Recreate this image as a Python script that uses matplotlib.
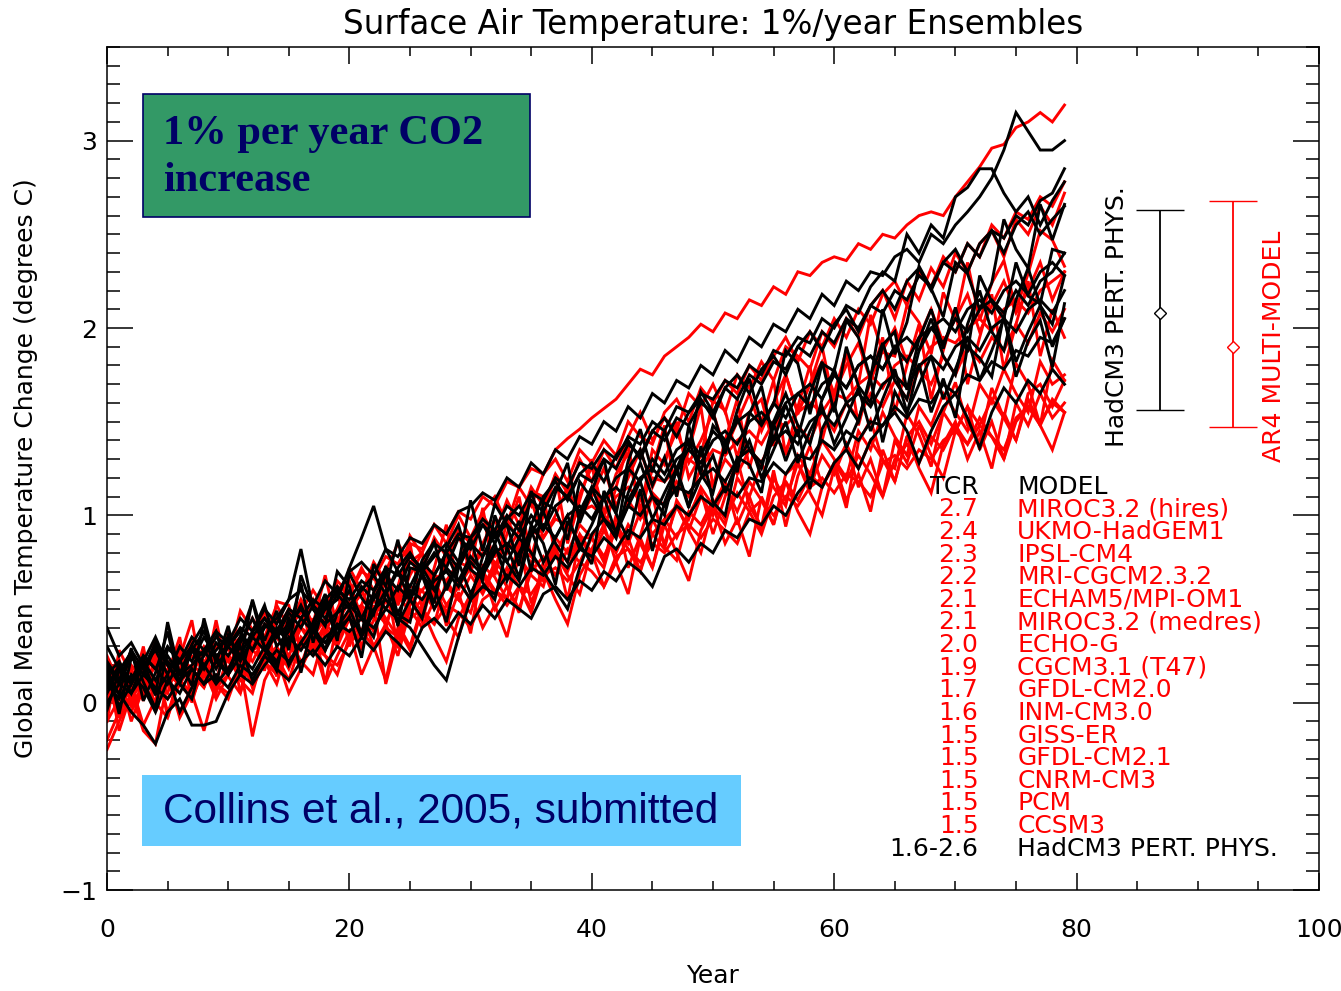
import numpy as np
import matplotlib
matplotlib.use("Agg")
import matplotlib.pyplot as plt
from matplotlib.patches import Rectangle
from matplotlib.ticker import MultipleLocator

# ---- data (years since start of 1%/yr CO2 increase) ----
years = list(range(80))

# AR4 multi-model runs (red)
miroc_hires = [0.05, 0.12, 0.02, 0.15, 0.10, 0.22, 0.18, 0.25, 0.20, 0.30,
               0.28, 0.35, 0.30, 0.42, 0.38, 0.50, 0.45, 0.55, 0.52, 0.62,
               0.58, 0.70, 0.66, 0.78, 0.74, 0.85, 0.82, 0.95, 0.90, 1.02,
               0.98, 1.10, 1.05, 1.18, 1.15, 1.25, 1.22, 1.35, 1.41, 1.46,
               1.52, 1.57, 1.62, 1.70, 1.78, 1.75, 1.85, 1.90, 1.95, 2.02,
               1.98, 2.08, 2.05, 2.15, 2.12, 2.22, 2.18, 2.30, 2.28, 2.35,
               2.38, 2.36, 2.45, 2.42, 2.50, 2.48, 2.55, 2.60, 2.62, 2.60,
               2.70, 2.78, 2.86, 2.96, 2.98, 3.07, 3.10, 3.15, 3.10, 3.19]
ukmo_hadgem1 = [0.02, 0.15, 0.08, 0.22, 0.10, 0.05, 0.25, 0.18, 0.30, 0.22,
                0.38, 0.30, 0.45, 0.35, 0.52, 0.40, 0.48, 0.60, 0.50, 0.65,
                0.58, 0.72, 0.60, 0.70, 0.85, 0.75, 0.80, 0.95, 0.85, 1.00,
                0.88, 1.02, 1.10, 0.95, 1.15, 1.05, 1.22, 1.30, 1.18, 1.35,
                1.28, 1.40, 1.32, 1.50, 1.42, 1.38, 1.55, 1.62, 1.50, 1.68,
                1.60, 1.72, 1.65, 1.80, 1.72, 1.85, 1.95, 1.82, 1.98, 1.90,
                2.05, 1.95, 2.10, 2.02, 2.18, 2.25, 2.12, 2.30, 2.22, 2.38,
                2.30, 2.45, 2.38, 2.55, 2.48, 2.62, 2.58, 2.70, 2.65, 2.78]
ipsl_cm4 = [0.18, 0.05, 0.20, 0.12, 0.28, 0.15, 0.10, 0.32, 0.20, 0.25,
            0.15, 0.35, 0.28, 0.22, 0.45, 0.38, 0.55, 0.42, 0.48, 0.62,
            0.50, 0.58, 0.75, 0.65, 0.55, 0.80, 0.70, 0.88, 0.78, 0.92,
            0.85, 1.00, 0.90, 1.08, 0.95, 1.15, 1.05, 1.22, 1.12, 1.30,
            1.18, 1.35, 1.25, 1.42, 1.55, 1.40, 1.52, 1.45, 1.65, 1.58,
            1.70, 1.55, 1.75, 1.68, 1.82, 1.72, 1.90, 1.85, 1.78, 1.98,
            1.90, 2.05, 1.95, 2.12, 2.20, 2.05, 2.25, 2.15, 2.32, 2.22,
            2.40, 2.30, 2.45, 2.52, 2.38, 2.58, 2.50, 2.65, 2.55, 2.72]
mri_cgcm232 = [0.15, 0.23, -0.01, 0.09, 0.34, 0.10, 0.24, 0.44, 0.08, 0.39,
               0.23, 0.49, 0.39, 0.17, 0.54, 0.52, 0.28, 0.42, 0.68, 0.40,
               0.72, 0.60, 0.45, 0.68, 0.54, 0.89, 0.79, 0.55, 0.77, 0.92,
               0.72, 1.04, 0.70, 0.97, 0.87, 1.13, 1.10, 0.79, 0.93, 1.11,
               1.26, 1.01, 1.22, 1.33, 1.02, 1.35, 1.27, 1.50, 1.20, 1.32,
               1.61, 1.56, 1.31, 1.55, 1.62, 1.37, 1.75, 1.54, 1.70, 1.90,
               1.59, 1.86, 1.70, 2.07, 1.87, 1.85, 2.12, 2.03, 1.86, 2.19,
               2.04, 2.35, 2.04, 2.24, 2.36, 2.10, 2.29, 2.52, 2.47, 2.33]
echam5 = [0.10, -0.08, 0.12, 0.25, 0.05, 0.18, 0.30, 0.12, 0.20, 0.38,
          0.22, 0.15, 0.35, 0.28, 0.48, 0.30, 0.42, 0.55, 0.38, 0.50,
          0.65, 0.45, 0.58, 0.72, 0.52, 0.68, 0.80, 0.62, 0.75, 0.90,
          0.70, 0.85, 0.98, 0.80, 0.92, 1.08, 0.88, 1.00, 1.15, 0.98,
          1.10, 1.25, 1.05, 1.20, 1.35, 1.15, 1.30, 1.45, 1.28, 1.40,
          1.55, 1.35, 1.50, 1.65, 1.45, 1.60, 1.75, 1.55, 1.70, 1.82,
          1.65, 1.80, 1.92, 1.72, 1.88, 2.00, 1.82, 1.95, 2.10, 1.92,
          2.05, 2.18, 1.98, 2.12, 2.25, 2.08, 2.20, 2.35, 2.15, 2.30]
miroc_medres = [0.05, 0.10, 0.02, 0.12, 0.08, 0.15, 0.10, 0.20, 0.15, 0.22,
                0.25, 0.20, 0.28, 0.32, 0.25, 0.35, 0.40, 0.35, 0.45, 0.42,
                0.48, 0.52, 0.45, 0.58, 0.55, 0.62, 0.60, 0.68, 0.65, 0.75,
                0.72, 0.80, 0.78, 0.85, 0.82, 0.92, 0.88, 0.98, 0.95, 1.02,
                1.05, 1.00, 1.10, 1.15, 1.08, 1.20, 1.18, 1.25, 1.30, 1.25,
                1.35, 1.32, 1.40, 1.45, 1.38, 1.50, 1.48, 1.55, 1.60, 1.55,
                1.65, 1.62, 1.70, 1.75, 1.68, 1.80, 1.85, 1.78, 1.90, 1.95,
                1.92, 2.00, 2.05, 1.98, 2.10, 2.15, 2.08, 2.20, 2.25, 2.30]
echo_g = [0.20, -0.15, 0.05, 0.30, -0.05, 0.15, 0.35, 0.00, 0.22, 0.10,
          0.40, 0.05, 0.28, 0.50, 0.15, 0.35, 0.55, 0.25, 0.42, 0.60,
          0.30, 0.52, 0.70, 0.40, 0.62, 0.85, 0.50, 0.72, 0.95, 0.60,
          0.82, 1.02, 0.68, 0.90, 1.10, 0.78, 1.00, 1.22, 0.85, 1.08,
          1.30, 0.92, 1.15, 1.38, 1.00, 1.25, 1.48, 1.10, 1.35, 1.58,
          1.15, 1.40, 1.62, 1.25, 1.50, 1.72, 1.32, 1.58, 1.80, 1.40,
          1.65, 1.88, 1.48, 1.72, 1.95, 1.55, 1.80, 2.02, 1.62, 1.88,
          2.10, 1.70, 1.95, 2.18, 1.78, 2.02, 2.25, 1.85, 2.10, 1.95]
cgcm31_t47 = [-0.10, 0.02, -0.05, 0.10, 0.00, -0.08, 0.12, 0.05, 0.18, 0.08,
              0.15, 0.25, 0.10, 0.22, 0.30, 0.18, 0.35, 0.28, 0.40, 0.32,
              0.45, 0.38, 0.50, 0.42, 0.58, 0.48, 0.55, 0.65, 0.52, 0.62,
              0.72, 0.60, 0.75, 0.68, 0.82, 0.78, 0.70, 0.88, 0.80, 0.95,
              0.88, 1.00, 0.92, 1.08, 0.98, 1.12, 1.05, 1.18, 1.10, 1.25,
              1.15, 1.30, 1.22, 1.35, 1.28, 1.42, 1.35, 1.48, 1.40, 1.55,
              1.45, 1.60, 1.52, 1.65, 1.58, 1.72, 1.62, 1.78, 1.70, 1.85,
              1.75, 1.90, 1.82, 1.95, 1.88, 2.02, 1.92, 2.08, 1.98, 2.10]
gfdl_cm20 = [0.00, 0.15, -0.10, 0.08, 0.20, -0.05, 0.10, 0.02, 0.18, 0.05,
             0.25, 0.12, 0.05, 0.28, 0.18, 0.35, 0.22, 0.15, 0.38, 0.30,
             0.45, 0.28, 0.52, 0.10, 0.35, 0.58, 0.48, 0.42, 0.65, 0.55,
             0.48, 0.70, 0.60, 0.55, 0.78, 0.68, 0.62, 0.85, 0.75, 0.90,
             0.80, 0.72, 0.95, 0.85, 1.02, 0.90, 0.82, 1.08, 0.98, 1.15,
             1.05, 0.95, 1.20, 1.10, 1.28, 1.15, 1.05, 1.32, 1.22, 1.40,
             1.30, 1.20, 1.45, 1.35, 1.55, 1.42, 1.32, 1.58, 1.48, 1.65,
             1.55, 1.45, 1.70, 1.60, 1.78, 1.65, 1.55, 1.82, 1.70, 1.75]
inm_cm30 = [-0.20, -0.05, 0.10, -0.12, 0.02, 0.15, -0.08, 0.05, -0.15, 0.10,
            0.02, 0.20, -0.18, 0.12, 0.25, 0.05, 0.18, 0.32, 0.10, 0.25,
            0.38, 0.15, 0.30, 0.12, 0.40, 0.28, 0.50, 0.35, 0.22, 0.45,
            0.58, 0.40, 0.52, 0.35, 0.62, 0.48, 0.70, 0.55, 0.42, 0.68,
            0.80, 0.62, 0.75, 0.58, 0.88, 0.72, 0.95, 0.80, 0.65, 0.92,
            1.05, 0.85, 0.98, 0.78, 1.10, 0.95, 1.18, 1.02, 0.90, 1.15,
            1.28, 1.08, 1.22, 1.02, 1.35, 1.18, 1.42, 1.25, 1.12, 1.38,
            1.50, 1.30, 1.45, 1.25, 1.55, 1.40, 1.62, 1.48, 1.35, 1.55]
giss_er = [-0.10, 0.28, 0.15, 0.01, 0.26, -0.08, 0.18, 0.33, 0.13, 0.44,
           0.14, 0.05, 0.35, 0.31, 0.14, 0.50, 0.29, 0.45, 0.10, 0.43,
           0.54, 0.30, 0.44, 0.66, 0.29, 0.56, 0.43, 0.69, 0.41, 0.59,
           0.37, 0.73, 0.67, 0.55, 0.87, 0.53, 0.71, 0.82, 0.55, 0.88,
           0.88, 0.75, 1.00, 0.72, 0.89, 1.11, 0.83, 0.76, 1.00, 1.13,
           0.90, 1.10, 1.30, 1.05, 0.94, 1.24, 0.94, 1.21, 1.37, 1.16,
           1.26, 1.04, 1.39, 1.51, 1.29, 1.25, 1.54, 1.43, 1.26, 1.55,
           1.71, 1.48, 1.39, 1.68, 1.52, 1.81, 1.70, 1.48, 1.83, 1.72]
gfdl_cm21 = [-0.25, -0.10, 0.05, -0.15, -0.22, 0.12, -0.05, 0.08, 0.18, 0.02,
             0.15, 0.28, 0.08, 0.22, 0.10, 0.32, 0.20, 0.38, 0.25, 0.15,
             0.35, 0.48, 0.30, 0.42, 0.25, 0.50, 0.40, 0.55, 0.45, 0.35,
             0.58, 0.70, 0.50, 0.62, 0.48, 0.75, 0.65, 0.80, 0.68, 0.58,
             0.82, 0.95, 0.75, 0.88, 0.70, 0.98, 0.85, 1.05, 0.92, 0.80,
             1.05, 1.18, 0.95, 1.10, 0.92, 1.20, 1.08, 1.28, 1.12, 1.00,
             1.25, 1.38, 1.15, 1.30, 1.10, 1.40, 1.28, 1.48, 1.32, 1.20,
             1.45, 1.58, 1.35, 1.50, 1.30, 1.60, 1.48, 1.65, 1.52, 1.60]
cnrm_cm3 = [0.25, 0.10, 0.18, 0.05, 0.22, 0.12, 0.28, 0.15, 0.08, 0.25,
            0.18, 0.30, 0.22, 0.35, 0.25, 0.12, 0.32, 0.40, 0.28, 0.45,
            0.35, 0.50, 0.38, 0.55, 0.42, 0.30, 0.52, 0.60, 0.48, 0.65,
            0.55, 0.70, 0.58, 0.72, 0.62, 0.50, 0.75, 0.82, 0.70, 0.88,
            0.78, 0.92, 0.80, 0.95, 0.85, 0.72, 0.98, 1.05, 0.92, 1.10,
            1.00, 1.15, 1.02, 1.18, 1.08, 0.95, 1.22, 1.28, 1.15, 1.32,
            1.22, 1.38, 1.25, 1.40, 1.30, 1.18, 1.42, 1.50, 1.38, 1.55,
            1.45, 1.58, 1.48, 1.62, 1.52, 1.40, 1.65, 1.70, 1.58, 1.72]
pcm = [0.00, 0.08, -0.02, 0.05, 0.12, 0.02, 0.10, 0.06, 0.15, 0.10,
       0.05, 0.18, 0.12, 0.22, 0.15, 0.25, 0.20, 0.30, 0.25, 0.20,
       0.32, 0.38, 0.30, 0.40, 0.35, 0.45, 0.50, 0.42, 0.52, 0.48,
       0.40, 0.55, 0.60, 0.52, 0.62, 0.58, 0.68, 0.72, 0.65, 0.75,
       0.70, 0.62, 0.78, 0.82, 0.75, 0.85, 0.80, 0.90, 0.95, 0.88,
       0.98, 0.92, 0.85, 1.02, 1.08, 1.00, 1.10, 1.05, 1.15, 1.20,
       1.12, 1.22, 1.18, 1.10, 1.28, 1.32, 1.25, 1.35, 1.30, 1.40,
       1.45, 1.38, 1.48, 1.42, 1.35, 1.52, 1.58, 1.50, 1.60, 1.55]
ccsm3 = [0.12, 0.20, 0.08, 0.18, 0.25, 0.10, 0.22, 0.15, 0.28, 0.20,
         0.32, 0.22, 0.10, 0.28, 0.35, 0.25, 0.40, 0.30, 0.42, 0.35,
         0.48, 0.38, 0.55, 0.45, 0.35, 0.52, 0.60, 0.50, 0.62, 0.55,
         0.68, 0.58, 0.72, 0.62, 0.50, 0.70, 0.78, 0.68, 0.82, 0.75,
         0.88, 0.78, 0.92, 0.82, 0.70, 0.90, 0.98, 0.88, 1.02, 0.95,
         1.08, 0.98, 1.12, 1.02, 0.90, 1.10, 1.18, 1.08, 1.22, 1.15,
         1.28, 1.18, 1.32, 1.22, 1.10, 1.30, 1.38, 1.28, 1.42, 1.35,
         1.48, 1.38, 1.52, 1.42, 1.30, 1.50, 1.58, 1.48, 1.62, 1.55]

# HadCM3 perturbed physics ensemble (black)
hadcm3_01 = [0.15, 0.22, 0.10, 0.25, 0.18, 0.30, 0.22, 0.35, 0.28, 0.38,
             0.32, 0.45, 0.38, 0.50, 0.42, 0.55, 0.60, 0.52, 0.65, 0.58,
             0.70, 0.75, 0.68, 0.82, 0.78, 0.88, 0.85, 0.95, 0.90, 1.02,
             1.05, 1.12, 1.08, 1.20, 1.15, 1.28, 1.22, 1.35, 1.30, 1.42,
             1.38, 1.50, 1.45, 1.58, 1.52, 1.65, 1.60, 1.72, 1.68, 1.80,
             1.75, 1.88, 1.82, 1.95, 1.90, 2.02, 1.98, 2.10, 2.05, 2.18,
             2.12, 2.25, 2.20, 2.30, 2.28, 2.38, 2.42, 2.35, 2.50, 2.45,
             2.55, 2.62, 2.70, 2.80, 2.95, 3.15, 3.05, 2.95, 2.95, 3.00]
hadcm3_02 = [0.40, 0.25, 0.32, 0.20, 0.28, 0.15, 0.30, 0.22, 0.35, 0.25,
             0.30, 0.38, 0.28, 0.42, 0.35, 0.48, 0.40, 0.52, 0.45, 0.58,
             0.50, 0.62, 0.55, 0.68, 0.60, 0.75, 0.70, 0.80, 0.72, 0.88,
             0.82, 0.95, 0.88, 1.00, 0.92, 1.08, 1.02, 1.15, 1.10, 1.22,
             1.18, 1.30, 1.25, 1.38, 1.32, 1.45, 1.40, 1.52, 1.48, 1.60,
             1.55, 1.68, 1.62, 1.75, 1.70, 1.82, 1.78, 1.90, 1.85, 1.98,
             1.92, 2.05, 2.00, 2.12, 2.08, 2.20, 2.15, 2.28, 2.22, 2.35,
             2.30, 2.45, 2.38, 2.52, 2.48, 2.60, 2.55, 2.68, 2.72, 2.85]
hadcm3_03 = [0.05, 0.18, 0.10, 0.22, 0.12, 0.25, 0.15, 0.20, 0.28, 0.18,
             0.30, 0.22, 0.35, 0.28, 0.40, 0.32, 0.45, 0.38, 0.50, 0.55,
             0.72, 0.88, 1.05, 0.82, 0.70, 0.62, 0.75, 0.68, 0.80, 0.72,
             0.85, 0.78, 0.90, 0.95, 0.88, 1.00, 0.92, 1.05, 1.10, 1.02,
             1.15, 1.08, 1.20, 1.25, 1.18, 1.30, 1.22, 1.35, 1.40, 1.32,
             1.45, 1.38, 1.50, 1.55, 1.48, 1.60, 1.52, 1.65, 1.70, 1.62,
             1.75, 1.68, 1.80, 1.85, 1.78, 1.90, 1.82, 1.95, 2.00, 1.92,
             2.05, 1.98, 2.10, 2.15, 2.08, 2.20, 2.12, 2.25, 2.30, 2.40]
hadcm3_04 = [0.20, 0.10, 0.25, 0.15, 0.30, 0.20, 0.12, 0.28, 0.18, 0.32,
             0.25, 0.35, 0.28, 0.40, 0.45, 0.55, 0.82, 0.50, 0.42, 0.48,
             0.52, 0.45, 0.58, 0.50, 0.62, 0.55, 0.68, 0.60, 0.72, 0.65,
             0.78, 0.70, 0.82, 0.75, 0.88, 0.80, 0.70, 0.60, 0.50, 0.72,
             0.90, 0.98, 0.92, 1.05, 1.00, 1.10, 1.05, 1.15, 1.12, 1.20,
             1.25, 1.18, 1.30, 1.35, 1.28, 1.40, 1.45, 1.38, 1.50, 1.55,
             1.48, 1.60, 1.65, 1.58, 1.70, 1.75, 1.68, 1.80, 1.85, 1.78,
             1.90, 1.95, 1.88, 2.00, 2.05, 1.98, 2.10, 2.15, 2.08, 2.20]
hadcm3_05 = [0.10, 0.02, 0.15, 0.08, -0.05, 0.12, 0.05, 0.18, 0.10, 0.22,
             0.15, 0.25, 0.18, 0.30, 0.22, 0.35, 0.28, 0.38, 0.32, 0.42,
             0.38, 0.45, 0.40, 0.50, 0.45, 0.40, 0.30, 0.20, 0.12, 0.35,
             0.55, 0.62, 0.58, 0.68, 0.62, 0.72, 0.68, 0.78, 0.72, 0.82,
             0.78, 0.88, 0.82, 0.92, 0.88, 0.98, 0.95, 1.05, 1.00, 1.10,
             1.05, 1.15, 1.10, 1.20, 1.18, 1.28, 1.22, 1.32, 1.30, 1.40,
             1.35, 1.45, 1.40, 1.50, 1.48, 1.58, 1.52, 1.62, 1.60, 1.70,
             1.65, 1.75, 1.72, 1.82, 1.78, 1.88, 1.85, 1.95, 1.92, 2.05]
hadcm3_06 = [0.12, 0.05, -0.05, -0.12, -0.22, -0.05, 0.02, -0.12, -0.12, -0.10,
             0.05, 0.15, 0.10, 0.20, 0.28, 0.22, 0.32, 0.25, 0.35, 0.40,
             0.45, 0.38, 0.50, 0.55, 0.48, 0.60, 0.55, 0.65, 0.70, 0.62,
             0.75, 0.68, 0.80, 0.85, 0.78, 0.90, 0.95, 0.88, 1.00, 1.05,
             0.98, 1.10, 1.15, 1.08, 1.20, 1.25, 1.18, 1.30, 1.35, 1.28,
             1.40, 1.45, 1.38, 1.50, 1.55, 1.48, 1.60, 1.65, 1.58, 1.70,
             1.75, 1.68, 1.80, 1.85, 1.78, 1.90, 1.95, 1.88, 2.00, 2.05,
             1.98, 2.10, 2.15, 2.08, 2.20, 2.25, 2.18, 2.30, 2.35, 2.28]
hadcm3_07 = [0.21, -0.06, 0.24, 0.18, 0.04, 0.43, 0.15, 0.31, 0.42, 0.10,
             0.36, 0.23, 0.55, 0.33, 0.49, 0.28, 0.68, 0.50, 0.41, 0.70,
             0.62, 0.35, 0.74, 0.62, 0.87, 0.56, 0.76, 0.86, 0.60, 0.74,
             1.08, 0.81, 1.06, 0.95, 0.73, 1.13, 0.92, 1.12, 1.28, 0.96,
             1.13, 1.30, 1.01, 1.29, 1.46, 1.23, 1.45, 1.23, 1.36, 1.66,
             1.55, 1.33, 1.56, 1.73, 1.49, 1.59, 1.88, 1.81, 1.54, 1.81,
             1.77, 2.04, 1.95, 1.73, 2.10, 1.86, 2.03, 2.33, 2.21, 2.06,
             2.35, 2.29, 2.10, 2.24, 2.58, 2.42, 2.32, 2.66, 2.47, 2.66]
hadcm3_08 = [0.00, 0.10, 0.05, 0.15, 0.08, 0.02, 0.12, 0.18, 0.10, 0.15,
             0.08, 0.20, 0.15, 0.25, 0.18, 0.12, 0.22, 0.28, 0.20, 0.30,
             0.25, 0.35, 0.28, 0.38, 0.32, 0.25, 0.40, 0.45, 0.38, 0.48,
             0.42, 0.52, 0.45, 0.55, 0.50, 0.45, 0.58, 0.62, 0.55, 0.65,
             0.60, 0.70, 0.65, 0.75, 0.70, 0.62, 0.78, 0.82, 0.75, 0.85,
             0.80, 0.92, 0.88, 0.98, 0.95, 1.05, 1.00, 1.12, 1.20, 1.15,
             1.28, 1.35, 1.25, 1.40, 1.48, 1.55, 1.45, 1.28, 1.45, 1.58,
             1.65, 1.52, 1.36, 1.55, 1.68, 1.60, 1.72, 1.65, 1.78, 1.70]
hadcm3_09 = [0.30, 0.18, 0.05, 0.22, 0.35, 0.20, 0.10, 0.28, 0.38, 0.25,
             0.15, 0.32, 0.45, 0.30, 0.20, 0.40, 0.52, 0.38, 0.28, 0.48,
             0.60, 0.45, 0.35, 0.58, 0.70, 0.55, 0.45, 0.68, 0.80, 0.65,
             0.55, 0.78, 0.92, 0.75, 0.65, 0.90, 1.02, 0.85, 0.75, 1.00,
             1.15, 0.98, 0.88, 1.12, 1.28, 1.10, 1.00, 1.25, 1.40, 1.22,
             1.12, 1.38, 1.52, 1.35, 1.25, 1.50, 1.65, 1.48, 1.38, 1.62,
             1.78, 1.60, 1.50, 1.75, 1.92, 1.72, 1.62, 1.88, 2.05, 1.85,
             1.75, 2.02, 2.20, 1.98, 1.88, 2.15, 2.32, 2.12, 2.02, 2.28]
hadcm3_10 = [0.08, 0.20, 0.12, 0.25, 0.18, 0.10, 0.22, 0.30, 0.20, 0.28,
             0.35, 0.25, 0.38, 0.45, 0.35, 0.42, 0.50, 0.40, 0.55, 0.62,
             0.52, 0.60, 0.68, 0.58, 0.72, 0.80, 0.70, 0.78, 0.85, 0.75,
             0.88, 0.95, 0.85, 0.98, 1.05, 0.95, 1.10, 1.18, 1.08, 1.22,
             1.28, 1.18, 1.32, 1.40, 1.30, 1.45, 1.52, 1.42, 1.55, 1.62,
             1.52, 1.68, 1.75, 1.65, 1.78, 1.85, 1.75, 1.90, 1.98, 1.88,
             2.02, 2.10, 1.98, 2.12, 2.20, 2.10, 2.25, 2.32, 2.20, 2.35,
             2.42, 2.30, 2.45, 2.52, 2.40, 2.55, 2.62, 2.50, 2.58, 2.65]
hadcm3_11 = [0.17, 0.04, 0.29, 0.01, 0.16, 0.38, 0.10, 0.02, 0.27, 0.38,
             0.15, 0.35, 0.54, 0.29, 0.17, 0.46, 0.16, 0.43, 0.58, 0.36,
             0.46, 0.24, 0.59, 0.70, 0.47, 0.43, 0.72, 0.61, 0.43, 0.72,
             0.88, 0.64, 0.55, 0.83, 0.67, 0.95, 0.85, 0.63, 0.97, 0.85,
             0.74, 1.13, 1.01, 0.87, 1.14, 0.81, 1.07, 1.24, 1.04, 1.37,
             1.07, 1.00, 1.31, 1.27, 1.12, 1.49, 1.29, 1.46, 1.14, 1.46,
             1.59, 1.36, 1.51, 1.73, 1.39, 1.66, 1.54, 1.81, 1.55, 1.73,
             1.52, 1.90, 1.84, 1.74, 2.07, 1.74, 1.93, 2.04, 1.79, 2.13]
hadcm3_12 = [-0.04, 0.17, 0.27, 0.11, -0.03, 0.29, 0.23, 0.09, 0.45, 0.21,
             0.41, 0.14, 0.38, 0.52, 0.30, 0.38, 0.64, 0.32, 0.54, 0.33,
             0.69, 0.56, 0.47, 0.73, 0.41, 0.72, 0.70, 0.53, 0.83, 0.95,
             0.71, 0.66, 1.00, 0.83, 0.97, 0.70, 1.07, 1.03, 0.87, 1.18,
             1.09, 0.98, 0.88, 1.25, 1.35, 1.16, 1.31, 1.10, 1.48, 1.23,
             1.48, 1.40, 1.23, 1.54, 1.69, 1.40, 1.59, 1.42, 1.65, 1.82,
             1.55, 1.90, 1.69, 1.60, 1.91, 1.98, 1.67, 1.94, 2.10, 1.89,
             2.11, 1.87, 2.28, 2.14, 2.05, 2.35, 2.17, 2.13, 2.42, 2.40]
hadcm3_13 = [0.22, 0.12, 0.28, 0.18, 0.32, 0.22, 0.15, 0.30, 0.25, 0.35,
             0.30, 0.40, 0.35, 0.45, 0.38, 0.50, 0.45, 0.55, 0.50, 0.60,
             0.55, 0.65, 0.60, 0.72, 0.68, 0.78, 0.72, 0.85, 0.80, 0.90,
             0.88, 0.98, 0.92, 1.05, 1.00, 1.12, 1.08, 1.20, 1.15, 1.28,
             1.25, 1.35, 1.30, 1.42, 1.38, 1.50, 1.45, 1.58, 1.55, 1.65,
             1.62, 1.72, 1.68, 1.80, 1.75, 1.88, 1.85, 1.95, 1.92, 2.05,
             2.00, 2.12, 2.08, 2.22, 2.30, 2.25, 2.50, 2.40, 2.55, 2.48,
             2.70, 2.75, 2.85, 2.85, 2.72, 2.62, 2.70, 2.55, 2.68, 2.78]
hadcm3_14 = [0.15, -0.02, 0.10, 0.22, 0.05, 0.15, -0.05, 0.08, 0.20, 0.10,
             0.18, 0.30, 0.12, 0.25, 0.38, 0.20, 0.32, 0.42, 0.28, 0.40,
             0.50, 0.35, 0.48, 0.60, 0.42, 0.55, 0.68, 0.50, 0.62, 0.75,
             0.58, 0.72, 0.85, 0.65, 0.80, 0.92, 0.75, 0.88, 1.00, 0.82,
             0.95, 1.10, 0.90, 1.05, 1.18, 0.98, 1.12, 1.25, 1.05, 1.20,
             1.32, 1.12, 1.28, 1.40, 1.20, 1.35, 1.50, 1.28, 1.45, 1.58,
             1.38, 1.52, 1.68, 1.45, 1.62, 1.78, 1.55, 1.70, 1.85, 1.62,
             1.78, 1.95, 1.72, 1.88, 2.05, 1.82, 1.98, 2.12, 1.90, 2.05]

red_runs = [miroc_hires, ukmo_hadgem1, ipsl_cm4, mri_cgcm232, echam5, miroc_medres,
            echo_g, cgcm31_t47, gfdl_cm20, inm_cm30, giss_er, gfdl_cm21, cnrm_cm3,
            pcm, ccsm3]
black_runs = [hadcm3_01, hadcm3_02, hadcm3_03, hadcm3_04, hadcm3_05, hadcm3_06,
              hadcm3_07, hadcm3_08, hadcm3_09, hadcm3_10, hadcm3_11, hadcm3_12,
              hadcm3_13, hadcm3_14]

# TCR table
tcr_values = ['2.7', '2.4', '2.3', '2.2', '2.1', '2.1', '2.0', '1.9', '1.7',
              '1.6', '1.5', '1.5', '1.5', '1.5', '1.5']
model_names = ['MIROC3.2 (hires)', 'UKMO-HadGEM1', 'IPSL-CM4', 'MRI-CGCM2.3.2',
               'ECHAM5/MPI-OM1', 'MIROC3.2 (medres)', 'ECHO-G', 'CGCM3.1 (T47)',
               'GFDL-CM2.0', 'INM-CM3.0', 'GISS-ER', 'GFDL-CM2.1', 'CNRM-CM3',
               'PCM', 'CCSM3']
ppe_tcr = '1.6-2.6'
ppe_name = 'HadCM3 PERT. PHYS.'

# TCR ranges shown as bars on the right: HadCM3 PPE, AR4 multi-model
range_mid = [2.08, 1.90]
range_low = [1.56, 1.47]
range_high = [2.63, 2.68]

# ---- plot ----
fig = plt.figure(figsize=(13.41, 9.91), dpi=100)
ax = fig.add_axes([107 / 1341, 101 / 991, 1212 / 1341, 843 / 991])

for run in red_runs:
    ax.plot(years, run, color='#ff0000', lw=2.1, solid_joinstyle='miter')
for run in black_runs:
    ax.plot(years, run, color='black', lw=2.1, solid_joinstyle='miter')

# range bars
bar_x = [86.9, 92.9]
bar_col = ['black', '#ff0000']
for i in range(2):
    ax.errorbar([bar_x[i]], [range_mid[i]],
                yerr=[[range_mid[i] - range_low[i]], [range_high[i] - range_mid[i]]],
                fmt='D', color=bar_col[i], mfc='white', mec=bar_col[i], ms=6,
                mew=1.0, elinewidth=1.3, capsize=17.5, capthick=1.3)
ax.text(83.3, 2.06, 'HadCM3 PERT. PHYS.', rotation=90, ha='center', va='center',
        fontsize=18, color='black')
ax.text(96.3, 1.90, 'AR4 MULTI-MODEL', rotation=90, ha='center', va='center',
        fontsize=18, color='#ff0000')

# TCR / MODEL table
row_h = 0.1208
y0 = 1.153
ax.text(71.9, y0, 'TCR', ha='right', va='center', fontsize=18)
ax.text(75.1, y0, 'MODEL', ha='left', va='center', fontsize=18)
for i in range(len(model_names)):
    yy = y0 - (i + 1) * row_h
    ax.text(71.9, yy, tcr_values[i], ha='right', va='center', fontsize=18, color='#ff0000')
    ax.text(75.1, yy, model_names[i], ha='left', va='center', fontsize=18, color='#ff0000')
yy = y0 - (len(model_names) + 1) * row_h
ax.text(71.9, yy, ppe_tcr, ha='right', va='center', fontsize=18)
ax.text(75.1, yy, ppe_name, ha='left', va='center', fontsize=18)

# annotation boxes
ax.add_patch(Rectangle((0.0297, 0.798), 0.319, 0.146, transform=ax.transAxes,
                       facecolor='#339966', edgecolor='#000066', lw=1.2, zorder=5))
ax.text(0.046, 0.869, '1% per year CO2\nincrease', transform=ax.transAxes,
        ha='left', va='center', fontsize=30.5, fontweight='bold',
        family='Liberation Serif', color='#000066', linespacing=1.3, zorder=6)
ax.add_patch(Rectangle((0.0289, 0.0522), 0.4938, 0.0843, transform=ax.transAxes,
                       facecolor='#66ccff', edgecolor='none', zorder=5))
ax.text(0.046, 0.0935, 'Collins et al., 2005, submitted', transform=ax.transAxes,
        ha='left', va='center', fontsize=30.5, family='Liberation Sans',
        color='#000066', zorder=6)

# axes
ax.set_xlim(0, 100)
ax.set_ylim(-1, 3.5)
ax.xaxis.set_major_locator(MultipleLocator(20))
ax.xaxis.set_minor_locator(MultipleLocator(5))
ax.yaxis.set_major_locator(MultipleLocator(1))
ax.yaxis.set_minor_locator(MultipleLocator(0.1))
ax.tick_params(which='both', direction='in', top=True, right=True, width=1.1,
               labelsize=18)
ax.tick_params(axis='x', which='major', length=12, pad=20)
ax.tick_params(axis='x', which='minor', length=6.5)
ax.tick_params(axis='y', which='major', length=19, pad=7)
ax.tick_params(axis='y', which='minor', length=9.5)
for sp in ax.spines.values():
    sp.set_linewidth(1.1)

ax.set_title('Surface Air Temperature: 1%/year Ensembles', fontsize=23.5, pad=9)
ax.set_xlabel('Year', fontsize=18, labelpad=16)
ax.set_ylabel('Global Mean Temperature Change (degrees C)', fontsize=18, labelpad=16)

fig.savefig('out.png', dpi=100)
